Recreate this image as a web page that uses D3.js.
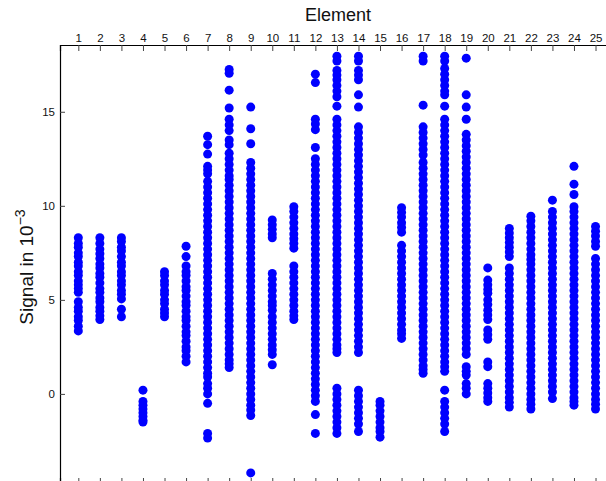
<html>
<head>
<meta charset="utf-8">
<title>Signal per element</title>
<style>
  body { margin: 0; background: #fff; }
  text { font-family: "Liberation Sans", Arial, sans-serif; fill: #111; }
</style>
</head>
<body>
<script src="https://d3js.org/d3.v7.min.js"></script>
<script>

var width = 606, height = 481;

// element numbers (top axis)
var elements = d3.range(1, 26);
var yTicks = [0, 5, 10, 15];

// signal readings per element, in 10^-3
var e01 = [8.3, 8.0, 7.8, 7.5, 7.3, 7.0, 6.8, 6.5, 6.3, 6.0, 5.8, 5.6, 5.4, 4.9, 4.6, 4.4, 4.1, 3.9, 3.6, 3.35];
var e02 = [8.3, 8.0, 7.7, 7.45, 7.2, 6.9, 6.7, 6.4, 6.2, 5.9, 5.6, 5.4, 5.1, 4.9, 4.6, 4.4, 4.15, 3.95];
var e03 = [8.3, 8.1, 7.8, 7.6, 7.3, 7.0, 6.8, 6.5, 6.3, 6.0, 5.8, 5.5, 5.3, 5.05, 4.5, 4.1];
var e04 = [0.2, -0.4, -0.6, -0.8, -1.0, -1.2, -1.4, -1.5];
var e05 = [6.5, 6.3, 6.0, 5.8, 5.5, 5.3, 5.0, 4.8, 4.5, 4.3, 4.1];
var e06 = [7.85, 7.3, 6.8, 6.5, 6.3, 6.0, 5.7, 5.5, 5.2, 4.9, 4.7, 4.4, 4.1, 3.9, 3.6, 3.3, 3.1, 2.8, 2.5, 2.3, 2.0, 1.7];
var e07 = [13.7, 13.25, 12.75, 12.1, 11.9, 11.7, 11.3, 11.0, 10.7, 10.4, 10.1, 9.8, 9.5, 9.2, 8.9, 8.6, 8.3, 8.0, 7.7, 7.4, 7.1, 6.8, 6.5, 6.2, 5.9, 5.6, 5.3, 5.0, 4.7, 4.4, 4.1, 3.8, 3.5, 3.2, 2.9, 2.6, 2.3, 2.0, 1.7, 1.4, 1.1, 0.9, 0.55, 0.3, 0.0, -0.5, -2.1, -2.35];
var e08 = [17.25, 17.05, 16.15, 15.2, 14.6, 14.3, 14.0, 13.5, 13.25, 12.8, 12.5, 12.2, 11.9, 11.6, 11.4, 11.1, 10.8, 10.5, 10.2, 9.9, 9.6, 9.3, 9.0, 8.7, 8.4, 8.1, 7.8, 7.5, 7.2, 6.9, 6.6, 6.3, 6.0, 5.7, 5.4, 5.1, 4.8, 4.5, 4.2, 3.9, 3.6, 3.3, 3.0, 2.7, 2.4, 2.1, 1.8, 1.6, 1.4];
var e09 = [15.25, 14.1, 13.3, 12.3, 12.0, 11.7, 11.4, 11.1, 10.8, 10.5, 10.2, 9.9, 9.6, 9.3, 9.0, 8.7, 8.4, 8.1, 7.8, 7.5, 7.2, 6.9, 6.6, 6.3, 6.0, 5.7, 5.4, 5.1, 4.8, 4.5, 4.2, 3.9, 3.6, 3.3, 3.0, 2.7, 2.4, 2.1, 1.8, 1.5, 1.2, 0.9, 0.6, 0.3, 0.0, -0.3, -0.6, -0.85, -1.15, -4.2];
var e10 = [9.25, 9.0, 8.75, 8.5, 8.3, 6.4, 6.1, 5.8, 5.5, 5.2, 4.9, 4.7, 4.45, 4.1, 3.8, 3.5, 3.2, 2.9, 2.6, 2.35, 2.1, 1.55];
var e11 = [9.95, 9.7, 9.4, 9.1, 8.8, 8.5, 8.25, 8.0, 7.75, 6.8, 6.5, 6.2, 5.9, 5.6, 5.3, 5.0, 4.7, 4.4, 4.15, 3.95];
var e12 = [17.0, 16.55, 14.6, 14.35, 14.05, 13.1, 12.5, 12.2, 11.9, 11.6, 11.3, 11.0, 10.7, 10.4, 10.1, 9.8, 9.5, 9.2, 8.9, 8.6, 8.3, 8.0, 7.7, 7.4, 7.1, 6.8, 6.5, 6.2, 5.9, 5.6, 5.3, 5.0, 4.7, 4.4, 4.1, 3.8, 3.5, 3.2, 2.9, 2.6, 2.3, 2.0, 1.7, 1.4, 1.1, 0.8, 0.5, 0.2, -0.1, -0.4, -1.1, -2.1];
var e13 = [17.95, 17.7, 17.2, 16.95, 16.7, 16.4, 16.1, 15.8, 15.3, 14.6, 14.3, 14.0, 13.7, 13.4, 13.1, 12.8, 12.5, 12.2, 11.9, 11.6, 11.3, 11.0, 10.7, 10.4, 10.1, 9.8, 9.5, 9.2, 8.9, 8.6, 8.3, 8.0, 7.7, 7.4, 7.1, 6.8, 6.5, 6.2, 5.9, 5.6, 5.3, 5.0, 4.7, 4.4, 4.1, 3.8, 3.5, 3.2, 2.9, 2.6, 2.4, 2.2, 0.3, 0.0, -0.3, -0.6, -0.9, -1.2, -1.5, -1.8, -2.1];
var e14 = [17.95, 17.7, 17.2, 16.95, 16.7, 15.9, 15.25, 14.2, 13.9, 13.6, 13.3, 13.0, 12.7, 12.4, 12.1, 11.8, 11.5, 11.2, 10.9, 10.6, 10.3, 10.0, 9.7, 9.4, 9.1, 8.8, 8.5, 8.2, 7.9, 7.6, 7.3, 7.0, 6.7, 6.4, 6.1, 5.8, 5.5, 5.2, 4.9, 4.6, 4.3, 4.0, 3.7, 3.4, 3.1, 2.8, 2.5, 2.2, 0.2, -0.1, -0.4, -0.7, -1.0, -1.3, -1.6, -2.0];
var e15 = [-0.4, -0.6, -0.9, -1.2, -1.5, -1.8, -2.0, -2.3];
var e16 = [9.9, 9.65, 9.4, 9.1, 8.85, 8.6, 7.9, 7.6, 7.3, 7.0, 6.7, 6.4, 6.1, 5.8, 5.5, 5.2, 4.9, 4.6, 4.3, 4.0, 3.7, 3.4, 3.2, 2.95];
var e17 = [17.95, 17.7, 15.35, 14.2, 13.9, 13.6, 13.3, 13.0, 12.7, 12.3, 12.0, 11.7, 11.4, 11.1, 10.8, 10.5, 10.2, 9.9, 9.6, 9.3, 9.0, 8.7, 8.4, 8.1, 7.8, 7.5, 7.2, 6.9, 6.6, 6.3, 6.0, 5.7, 5.4, 5.1, 4.8, 4.5, 4.2, 3.9, 3.6, 3.3, 3.0, 2.7, 2.4, 2.1, 1.8, 1.5, 1.3, 1.1];
var e18 = [17.95, 17.7, 17.3, 17.0, 16.7, 16.4, 16.1, 15.9, 15.3, 14.6, 14.3, 14.0, 13.7, 13.4, 13.1, 12.8, 12.5, 12.2, 11.9, 11.6, 11.3, 11.0, 10.7, 10.4, 10.1, 9.8, 9.5, 9.2, 8.9, 8.6, 8.3, 8.0, 7.7, 7.4, 7.1, 6.8, 6.5, 6.2, 5.9, 5.6, 5.3, 5.0, 4.7, 4.4, 4.1, 3.8, 3.5, 3.2, 2.9, 2.6, 2.3, 2.0, 1.7, 1.45, 1.2, 0.2, -0.4, -0.7, -1.0, -1.3, -1.6, -2.0];
var e19 = [17.85, 15.9, 15.25, 14.6, 13.8, 13.5, 13.2, 12.9, 12.6, 12.3, 12.0, 11.7, 11.4, 11.1, 10.8, 10.5, 10.2, 9.9, 9.6, 9.3, 9.0, 8.7, 8.4, 8.1, 7.8, 7.5, 7.2, 6.9, 6.6, 6.3, 6.0, 5.7, 5.4, 5.1, 4.8, 4.5, 4.2, 3.9, 3.6, 3.3, 3.0, 2.7, 2.4, 2.1, 1.45, 1.2, 1.0, 0.55, 0.3, 0.0];
var e20 = [6.7, 6.05, 5.8, 5.55, 5.35, 5.0, 4.75, 4.45, 4.2, 3.95, 3.4, 3.15, 2.9, 1.7, 1.45, 0.55, 0.3, 0.05, -0.2, -0.4];
var e21 = [8.8, 8.55, 8.3, 8.05, 7.8, 7.55, 7.3, 6.7, 6.4, 6.1, 5.8, 5.5, 5.2, 4.9, 4.6, 4.3, 4.0, 3.7, 3.4, 3.1, 2.8, 2.5, 2.2, 1.9, 1.6, 1.3, 1.0, 0.7, 0.4, 0.1, -0.2, -0.45, -0.7];
var e22 = [9.45, 9.2, 8.9, 8.6, 8.3, 8.0, 7.7, 7.4, 7.15, 6.9, 6.6, 6.3, 6.0, 5.7, 5.4, 5.1, 4.8, 4.5, 4.2, 3.9, 3.6, 3.3, 3.0, 2.7, 2.4, 2.1, 1.8, 1.5, 1.2, 0.9, 0.6, 0.3, 0.0, -0.3, -0.55, -0.8];
var e23 = [10.3, 9.7, 9.4, 9.1, 8.8, 8.5, 8.2, 7.9, 7.6, 7.3, 7.0, 6.7, 6.4, 6.1, 5.8, 5.5, 5.2, 4.9, 4.6, 4.3, 4.0, 3.7, 3.4, 3.1, 2.8, 2.5, 2.2, 1.9, 1.6, 1.3, 1.0, 0.7, 0.4, 0.1, -0.25];
var e24 = [12.1, 11.15, 10.6, 9.95, 9.7, 9.4, 9.1, 8.8, 8.5, 8.2, 7.9, 7.6, 7.3, 7.0, 6.7, 6.4, 6.1, 5.8, 5.5, 5.2, 4.9, 4.6, 4.3, 4.0, 3.7, 3.4, 3.1, 2.8, 2.5, 2.2, 1.9, 1.6, 1.3, 1.0, 0.7, 0.4, 0.1, -0.2, -0.4, -0.6];
var e25 = [8.9, 8.65, 8.4, 8.1, 7.85, 7.2, 6.9, 6.6, 6.3, 6.0, 5.7, 5.4, 5.1, 4.8, 4.5, 4.2, 3.9, 3.6, 3.3, 3.0, 2.7, 2.4, 2.1, 1.8, 1.5, 1.2, 0.9, 0.6, 0.3, 0.0, -0.3, -0.55, -0.8];

var signals = [e01, e02, e03, e04, e05, e06, e07, e08, e09, e10, e11, e12, e13,
               e14, e15, e16, e17, e18, e19, e20, e21, e22, e23, e24, e25];

// flatten to points
var points = [];
elements.forEach(function(el, i) {
    signals[i].forEach(function(v) { points.push({el: el, v: v}); });
});

// plot box runs a little past the window on the right and bottom
var mLeft = 60, mTop = 45, mRight = 616, mBottom = 484;

var x = d3.scaleLinear().domain([0.15, 25.95]).range([mLeft, mRight]);
var y = d3.scaleLinear().domain([-4.79, 18.55]).range([mBottom, mTop]);

var svg = d3.select("body").append("svg")
    .attr("width", width)
    .attr("height", height);

// dots
svg.append("g").selectAll("circle").data(points)
    .enter().append("circle")
    .attr("cx", function(d) { return x(d.el); })
    .attr("cy", function(d) { return y(d.v); })
    .attr("r", 4.5)
    .attr("fill", "#0000ff");

// top axis with element numbers
var xTop = svg.append("g")
    .attr("transform", "translate(0," + mTop + ")")
    .call(d3.axisTop(x).tickValues(elements).tickSize(-6).tickPadding(3).tickFormat(d3.format("d")));

// bottom axis, ticks only
var xBottom = svg.append("g")
    .attr("transform", "translate(0," + mBottom + ")")
    .call(d3.axisBottom(x).tickValues(elements).tickSize(-6).tickFormat(""));

// left axis
var yLeft = svg.append("g")
    .attr("transform", "translate(" + mLeft + ",0)")
    .call(d3.axisLeft(y).tickValues(yTicks).tickSize(-5).tickPadding(5));

[xTop, xBottom, yLeft].forEach(function(g) {
    g.select(".domain").attr("stroke", "#000").attr("stroke-width", 1.2);
    g.selectAll(".tick line").attr("stroke", "#444").attr("stroke-width", 1);
    g.selectAll(".tick text")
        .attr("font-family", "Liberation Sans, Arial, sans-serif")
        .attr("font-size", 11.5)
        .attr("fill", "#111");
});
yLeft.selectAll(".tick text").attr("dy", "0.35em");

// titles
svg.append("text")
    .attr("x", 338)
    .attr("y", 21)
    .attr("text-anchor", "middle")
    .attr("font-size", 18)
    .text("Element");

var ylab = svg.append("text")
    .attr("transform", "translate(33,267) rotate(-90)")
    .attr("text-anchor", "middle")
    .attr("font-size", 19);
ylab.append("tspan").text("Signal in 10");
ylab.append("tspan")
    .attr("font-size", 14)
    .attr("dy", -8)
    .text("\u22123");

</script>
</body>
</html>
